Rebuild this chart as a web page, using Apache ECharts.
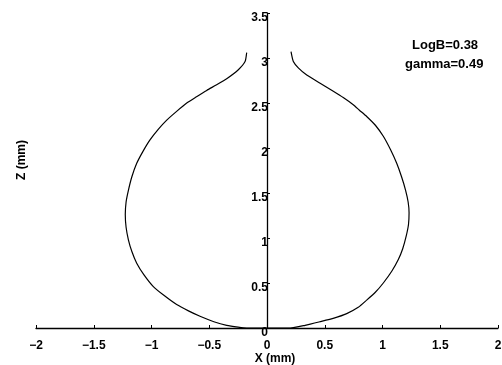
<!DOCTYPE html>
<html>
<head>
<meta charset="utf-8">
<script src="https://cdn.jsdelivr.net/npm/echarts@6/dist/echarts.min.js"></script>
<style>
  html, body { margin: 0; padding: 0; background: #fff; }
  #chart { width: 502px; height: 365px; }
</style>
</head>
<body>
<div id="chart"></div>
<script>
// Drop profile: X (mm) vs Z (mm), traced from the left neck, round the base, up to the right neck
const profileX = [
  -0.176, -0.190, -0.248, -0.349, -0.440, -0.522, -0.610, -0.695, -0.780, -0.868,
  -0.940, -1.013, -1.075, -1.128, -1.170, -1.200, -1.220, -1.227, -1.220, -1.200,
  -1.170, -1.128, -1.065, -0.984, -0.890, -0.782, -0.680, -0.580, -0.460, -0.349,
  -0.250, -0.176,
  0.200, 0.330, 0.459, 0.580, 0.690, 0.790, 0.863, 0.940, 1.007, 1.080,
  1.137, 1.175, 1.205, 1.225, 1.230, 1.222, 1.200, 1.165, 1.123, 1.070,
  1.007, 0.940, 0.863, 0.800, 0.747, 0.660, 0.574, 0.460, 0.344, 0.271,
  0.228, 0.208
];
const profileZ = [
  3.06, 2.96, 2.87, 2.77, 2.70, 2.64, 2.57, 2.50, 2.41, 2.31,
  2.21, 2.09, 1.96, 1.83, 1.68, 1.53, 1.40, 1.26, 1.12, 0.98,
  0.85, 0.72, 0.59, 0.46, 0.36, 0.26, 0.19, 0.13, 0.07, 0.03,
  0.01, 0.00,
  0.00, 0.03, 0.07, 0.11, 0.16, 0.23, 0.31, 0.40, 0.50, 0.63,
  0.76, 0.88, 1.02, 1.15, 1.28, 1.40, 1.53, 1.68, 1.83, 1.98,
  2.13, 2.25, 2.35, 2.42, 2.48, 2.56, 2.63, 2.72, 2.81, 2.89,
  2.96, 3.07
];
const xTicks = [-2, -1.5, -1, -0.5, 0, 0.5, 1, 1.5, 2];
const zTicks = [0, 0.5, 1, 1.5, 2, 2.5, 3, 3.5];
const params = ['LogB=0.38', 'gamma=0.49'];

const points = profileX.map((x, i) => [x, profileZ[i]]);
const fmt = v => String(v).replace('-', '\u2212');
const FONT = '"Liberation Sans", Arial, sans-serif';

const chart = echarts.init(document.getElementById('chart'), null, { renderer: 'canvas' });
chart.setOption({
  animation: false,
  backgroundColor: '#fff',
  grid: { left: 36, right: 4, top: 13, bottom: 37, containLabel: false, outerBoundsMode: 'none' },
  xAxis: {
    type: 'value',
    min: xTicks[0], max: xTicks[xTicks.length - 1], interval: 0.5,
    name: 'X (mm)', nameLocation: 'middle', nameGap: 25, nameMoveOverlap: false,
    nameTextStyle: { color: '#000', fontSize: 12, fontWeight: 'bold', fontFamily: FONT, padding: [0, 0, 0, 16] },
    axisLine: { onZero: false, lineStyle: { color: '#000', width: 1.3 } },
    axisTick: { show: true, inside: true, length: 3, lineStyle: { color: '#000' } },
    axisLabel: { color: '#000', fontSize: 12, fontWeight: 'bold', fontFamily: FONT, margin: 12,
                 formatter: v => fmt(v) },
    splitLine: { show: false }
  },
  yAxis: {
    type: 'value',
    position: 'left',
    offset: -231,   // vertical axis drawn through X = 0
    min: zTicks[0], max: zTicks[zTicks.length - 1], interval: 0.5,
    axisLine: { onZero: false, lineStyle: { color: '#000', width: 1.3 } },
    axisTick: { show: true, inside: true, length: 3, lineStyle: { color: '#000' } },
    axisLabel: { color: '#000', fontSize: 12, fontWeight: 'bold', fontFamily: FONT, margin: -1,
                 verticalAlign: 'top', lineHeight: 9, formatter: v => fmt(v) },
    splitLine: { show: false }
  },
  graphic: [
    { type: 'text', left: 412, top: 39,
      style: { text: params[0], fill: '#000', font: 'bold 13px ' + FONT } },
    { type: 'text', left: 405, top: 58,
      style: { text: params[1], fill: '#000', font: 'bold 13px ' + FONT } },
    { type: 'text', x: 22, y: 160, rotation: Math.PI / 2,
      style: { text: 'Z (mm)', fill: '#000', font: 'bold 12px ' + FONT, align: 'center', verticalAlign: 'middle' } }
  ],
  series: [{
    type: 'line',
    data: points,
    showSymbol: false,
    smooth: 0.2,
    lineStyle: { color: '#000', width: 1.2 }
  }]
});
</script>
</body>
</html>
